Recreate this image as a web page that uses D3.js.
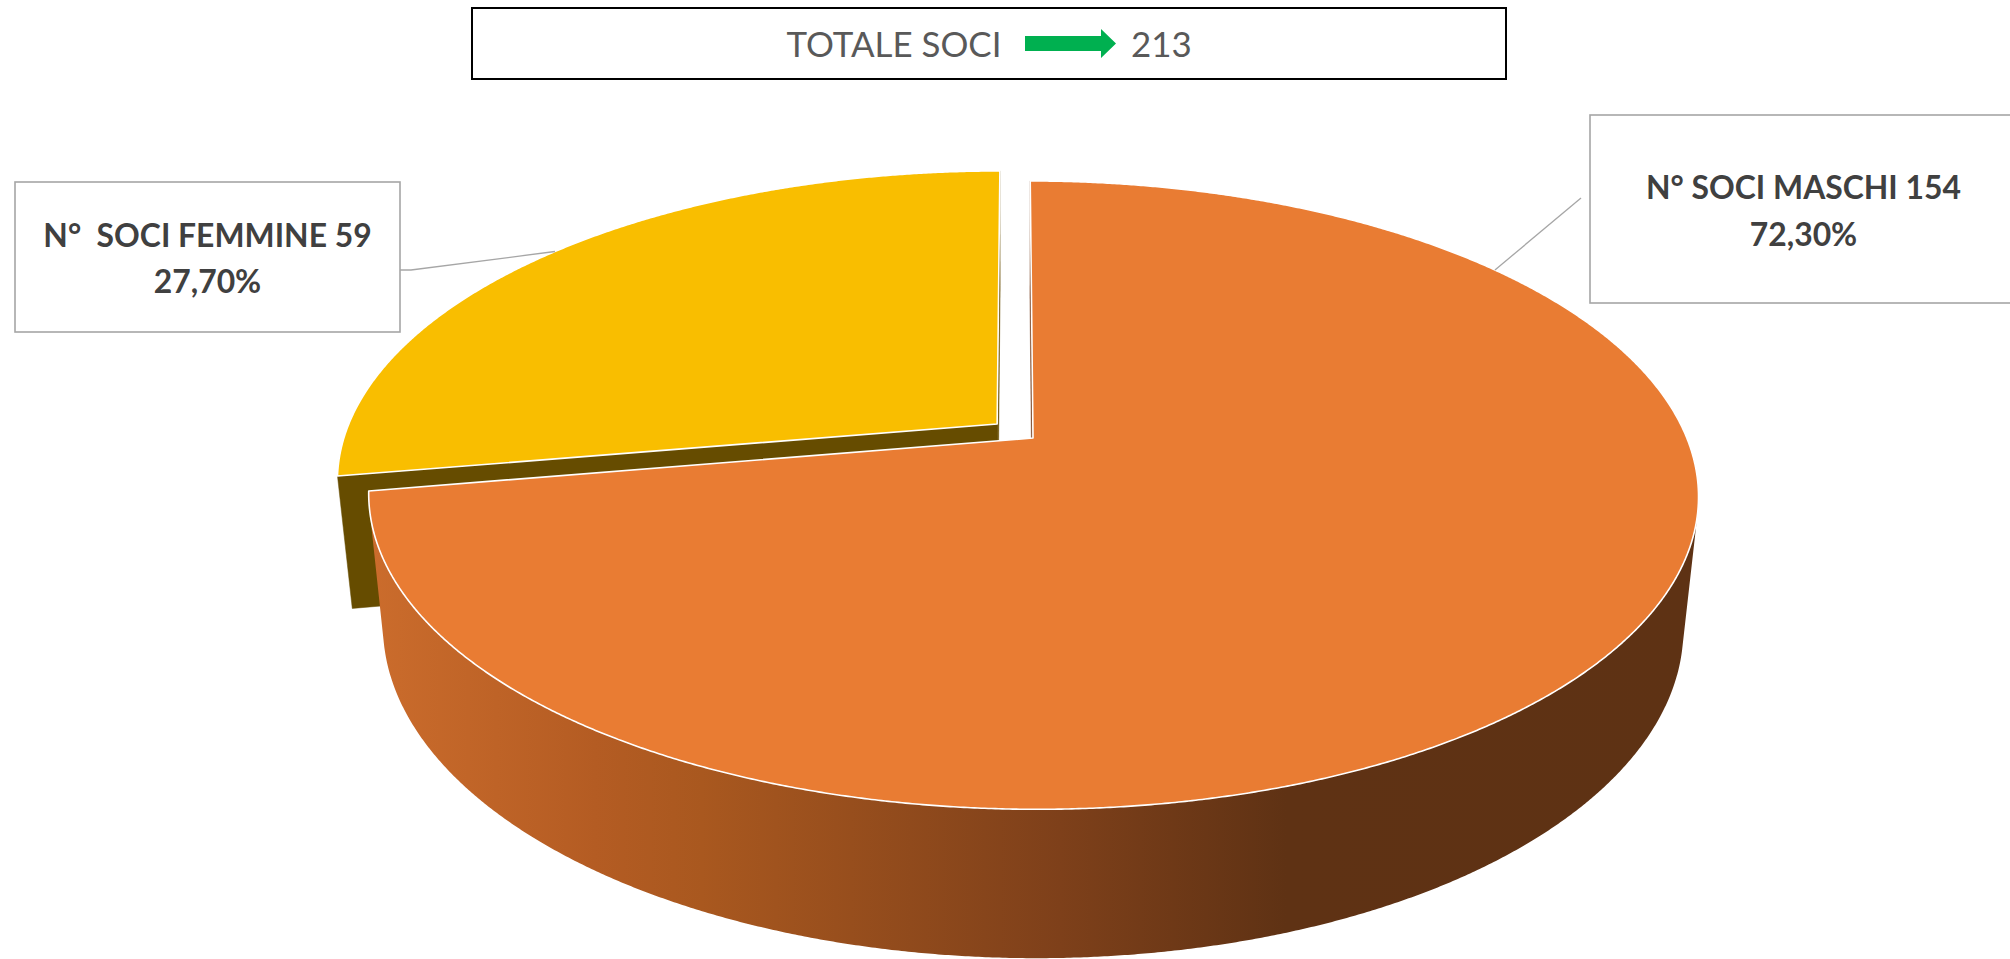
<!DOCTYPE html>
<html><head><meta charset="utf-8">
<script src="https://cdn.jsdelivr.net/npm/d3@7"></script>
<style>html,body{margin:0;padding:0;background:#fff;overflow:hidden}</style>
</head><body>
<svg id="chart" width="2010" height="959"></svg>
<script>
// ---------- data ----------
const categories = ["N° SOCI MASCHI", "N°  SOCI FEMMINE"];
const values = [154, 59];
const titleText = "TOTALE SOCI";

// ---------- styles / layout ----------
const W = 2010, H = 959;
const FONT = "Lato, Carlito, Calibri, 'Open Sans', sans-serif";
const topColors = ["#E97C33", "#F9BE00"];
const faceColors = ["#7A4424", "#664C00"];
const sideStops = [
  [["0", "#CB6C2C"], ["0.17", "#B45C23"], ["0.25", "#A9581F"], ["0.52", "#7E401A"], ["0.69", "#5F3214"], ["1", "#5E3214"]],
  [["0", "#C99800"], ["0.5", "#8F6C00"], ["1", "#5E4700"]]
];
const labelLayout = [
  { box: [1590, 115, 427, 188], cx: 1803.5, base1: 199, base2: 246,
    leader: [[1581, 198]], anchorFrac: 0.2 },
  { box: [15, 182, 385, 150], cx: 207.5, base1: 247, base2: 293,
    leader: [[400, 270], [411, 270]], anchorFrac: 0.5 }
];

const svg = d3.select("#chart");
svg.append("rect").attr("width", W).attr("height", H).attr("fill", "#fff");
const defs = svg.append("defs");

const total = d3.sum(values);
const pctFmt = v => d3.format(".2%")(v).replace(".", ",");

// ---------- 3D pie projection ----------
const pie = d3.pie().sort(null).startAngle(0).endAngle(2 * Math.PI);
const arcs = pie(values);
const rScale = d3.scaleLinear().domain([0, 1]).range([0, 1]);
const cam = { cx: 1015, cy: 431, f: 3189, d0: 4.898, tilt: 27.56 * Math.PI / 180 };
const thick = 0.23, explode = 0.036;
const ct = Math.cos(cam.tilt), st = Math.sin(cam.tilt);
const camPos = [0, cam.d0 * st, -cam.d0 * ct];
function proj(X, Y, Z) {
  const yc = Y * ct + Z * st, dp = cam.d0 + Z * ct - Y * st;
  return [cam.cx + cam.f * X / dp, cam.cy - cam.f * yc / dp, dp];
}
const line = d3.line();
const step = Math.PI / 720;

const slices = arcs.map((a, i) => {
  const mid = (a.startAngle + a.endAngle) / 2;
  const ox = explode * Math.sin(mid), oz = explode * Math.cos(mid);
  const R = rScale(1);
  const pt = (phi, Y) => proj(ox + R * Math.sin(phi), Y, oz + R * Math.cos(phi));
  const angs = d3.range(a.startAngle, a.endAngle, step).concat([a.endAngle]);
  const cen = proj(ox, 0, oz);
  const depthC = proj(ox + 0.5 * Math.sin(mid), 0, oz + 0.5 * Math.cos(mid))[2];
  return { a, i, mid, ox, oz, R, pt, angs, cen, depthC };
});

const draw = slices.slice().sort((p, q) => q.depthC - p.depthC);
const g = svg.append("g");

draw.forEach(s => {
  const { a, i, ox, oz, R, pt, angs } = s;
  // radial faces
  [[a.startAngle, [-Math.cos(a.startAngle), Math.sin(a.startAngle)]],
   [a.endAngle, [Math.cos(a.endAngle), -Math.sin(a.endAngle)]]].forEach(([phi, n]) => {
    const vis = (camPos[0] - ox) * n[0] + (camPos[2] - oz) * n[1];
    if (vis <= 0) return;
    const p = [proj(ox, 0, oz), pt(phi, 0), pt(phi, -thick), proj(ox, -thick, oz)].map(d => [d[0], d[1]]);
    g.append("path").attr("d", line(p) + "Z").attr("fill", faceColors[i])
      .attr("stroke", faceColors[i]).attr("stroke-width", 0.5);
  });
  // outer side
  const visA = angs.map(phi => {
    const px = ox + R * Math.sin(phi), pz = oz + R * Math.cos(phi);
    return (camPos[0] - px) * Math.sin(phi) + (camPos[2] - pz) * Math.cos(phi) > 0;
  });
  const runs = [];
  let cur = null;
  angs.forEach((phi, k) => {
    if (visA[k]) { if (!cur) { cur = []; runs.push(cur); } cur.push(phi); }
    else cur = null;
  });
  const gid = "side" + i;
  const grad = defs.append("linearGradient").attr("id", gid)
    .attr("x1", 0).attr("x2", 1).attr("y1", 0).attr("y2", 0);
  sideStops[i].forEach(([o, c]) => grad.append("stop").attr("offset", o).attr("stop-color", c));
  runs.forEach(run => {
    if (run.length < 2) return;
    const topP = run.map(phi => pt(phi, 0).slice(0, 2));
    const botP = run.slice().reverse().map(phi => pt(phi, -thick).slice(0, 2));
    g.append("path").attr("d", line(topP.concat(botP)) + "Z").attr("fill", `url(#${gid})`);
  });
  // top face
  const topPts = [[s.cen[0], s.cen[1]]].concat(angs.map(phi => pt(phi, 0).slice(0, 2)));
  g.append("path").attr("d", line(topPts) + "Z").attr("fill", topColors[i])
    .attr("stroke", "#fff").attr("stroke-width", 1.6).attr("stroke-linejoin", "round");
});

// ---------- text fitting helper ----------
function fitSize(text, weight, target) {
  const t = svg.append("text").attr("font-family", FONT).attr("font-weight", weight)
    .attr("font-size", 100).style("white-space", "pre").text(text);
  const w = t.node().getComputedTextLength();
  t.remove();
  return 100 * target / w;
}

// ---------- labels ----------
const labelSize = fitSize(categories[0] + " " + values[0], 700, 315);
slices.forEach(s => {
  const L = labelLayout[s.i];
  const phi = s.a.startAngle + L.anchorFrac * (s.a.endAngle - s.a.startAngle);
  const anc = s.pt(phi, 0);
  svg.append("path").attr("d", line(L.leader.concat([[anc[0], anc[1]]])))
    .attr("fill", "none").attr("stroke", "#A6A6A6").attr("stroke-width", 1.3);
  svg.append("rect").attr("x", L.box[0]).attr("y", L.box[1]).attr("width", L.box[2]).attr("height", L.box[3])
    .attr("fill", "#fff").attr("stroke", "#A6A6A6").attr("stroke-width", 1.6);
  const t = svg.append("text").attr("font-family", FONT).attr("font-weight", 700)
    .attr("font-size", labelSize).attr("fill", "#404040").attr("text-anchor", "middle")
    .style("white-space", "pre");
  t.append("tspan").attr("x", L.cx).attr("y", L.base1).text(categories[s.i] + " " + values[s.i]);
  t.append("tspan").attr("x", L.cx).attr("y", L.base2).text(pctFmt(values[s.i] / total));
});

// ---------- title box ----------
svg.append("rect").attr("x", 472).attr("y", 8).attr("width", 1034).attr("height", 71)
  .attr("fill", "#fff").attr("stroke", "#000").attr("stroke-width", 2);
const titleSize = fitSize(titleText, 400, 215);
svg.append("text").attr("x", 786.5).attr("y", 57).attr("font-family", FONT)
  .attr("font-size", titleSize).attr("fill", "#595959").text(titleText);
svg.append("path").attr("d", line([[1025, 36], [1101, 36], [1101, 29], [1116, 43.5], [1101, 58], [1101, 51], [1025, 51]]) + "Z")
  .attr("fill", "#00B050");
svg.append("text").attr("x", 1131).attr("y", 57).attr("font-family", FONT)
  .attr("font-size", titleSize).attr("fill", "#595959").text(total);
</script>
</body></html>
